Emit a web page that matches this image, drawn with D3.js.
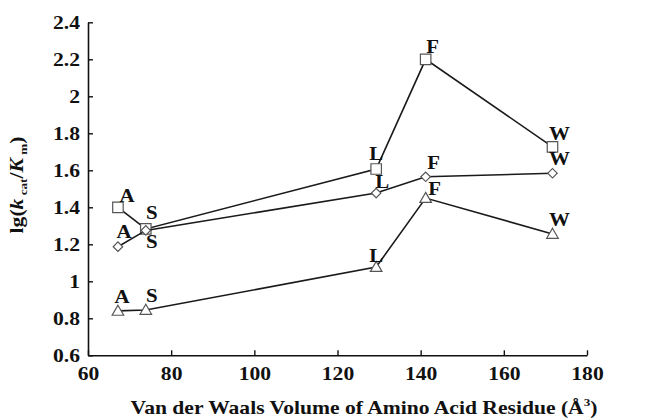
<!DOCTYPE html>
<html>
<head>
<meta charset="utf-8">
<script src="https://cdn.jsdelivr.net/npm/d3@7"></script>
<style>
  body { margin: 0; background: #fff; }
  text { font-family: "Liberation Serif", "Times New Roman", serif; font-weight: bold; fill: #111; }
</style>
</head>
<body>
<svg id="Chart"></svg>
<script>
// residues and their van der Waals volumes (x)
let residues = ["A", "S", "L", "F", "W"]
let volumes = [67.2, 73.9, 129.3, 141.2, 171.7]

// lg(kcat/Km) for the three series
let squareVals = [1.40, 1.283, 1.607, 2.20, 1.727]
let diamondVals = [1.187, 1.275, 1.477, 1.565, 1.584]
let triangleVals = [0.84, 0.845, 1.077, 1.45, 1.256]

let xTicks = [60, 80, 100, 120, 140, 160, 180]
let yTicks = [0.6, 0.8, 1, 1.2, 1.4, 1.6, 1.8, 2, 2.2, 2.4]

// label offsets from the marker (layout only)
let labelOffsets = {
    square:   [[9, -12], [6, -16], [0, -16], [7, -13], [7, -13]],
    diamond:  [[6, -15], [6, 11], [6, -12], [8, -14], [7, -15]],
    triangle: [[4, -14], [6, -14], [0, -12], [9, -10], [7, -14]]
}

// the original figure's type is a little wider than Liberation Serif
let stretchX = 1.2

function stretchText(sel, k){
    sel.each(function(){
        let w = this.getComputedTextLength()
        d3.select(this)
            .attr("textLength", w * k)
            .attr("lengthAdjust", "spacingAndGlyphs")
    })
}

function getChartConfig(){
    let width = 647
    let height = 420
    let margin = { top: 22.3, bottom: 64.7, left: 88, right: 60 }
    let bodyWidth = width - margin.left - margin.right
    let bodyHeight = height - margin.top - margin.bottom
    let container = d3.select("#Chart")
        .attr("width", width)
        .attr("height", height)
    return { width, height, margin, bodyWidth, bodyHeight, container }
}

function getScales(config){
    let { margin, bodyWidth, bodyHeight } = config
    let xScale = d3.scaleLinear()
        .domain([60, 180])
        .range([margin.left, margin.left + bodyWidth])
    let yScale = d3.scaleLinear()
        .domain([0.6, 2.4])
        .range([margin.top + bodyHeight, margin.top])
    return { xScale, yScale }
}

function drawAxes(scales, config){
    let { xScale, yScale } = scales
    let { container, margin, bodyHeight } = config

    let axisX = d3.axisBottom(xScale)
        .tickValues(xTicks)
        .tickSizeInner(-5)
        .tickSizeOuter(0)
        .tickPadding(12)
    let gx = container.append("g")
        .attr("transform", `translate(0,${margin.top + bodyHeight})`)
        .call(axisX)

    let axisY = d3.axisLeft(yScale)
        .tickValues(yTicks)
        .tickFormat(d3.format("~g"))
        .tickSizeInner(-5)
        .tickSizeOuter(0)
        .tickPadding(8)
    let gy = container.append("g")
        .attr("transform", `translate(${margin.left},0)`)
        .call(axisY)

    for (let g of [gx, gy]) {
        g.select(".domain").attr("stroke", "#111").attr("stroke-width", 1.6)
        g.selectAll(".tick line").attr("stroke", "#111").attr("stroke-width", 1.4)
        g.selectAll(".tick text")
            .attr("font-family", null)
            .attr("font-size", null)
            .style("font-size", "18px")
            .attr("fill", "#111")
        stretchText(g.selectAll(".tick text"), stretchX)
    }
    gy.selectAll(".tick text").attr("dy", "0.35em")

    // x title
    let xt = container.append("text")
        .attr("transform", `translate(364,414) scale(${stretchX},1)`)
        .attr("text-anchor", "middle")
        .style("font-size", "18px")
    xt.append("tspan").text("Van der Waals Volume of Amino Acid Residue (Å")
    xt.append("tspan").text("3").style("font-size", "11px").attr("dy", -8)
    xt.append("tspan").text(")").attr("dy", 8)

    // y title
    let yt = container.append("text")
        .attr("transform", `translate(23,185) rotate(-90) scale(${stretchX},1)`)
        .attr("text-anchor", "middle")
        .style("font-size", "18px")
    yt.append("tspan").text("lg(")
    yt.append("tspan").text("k").style("font-style", "italic")
    yt.append("tspan").text(" cat").style("font-size", "11px").attr("dy", 4)
    yt.append("tspan").text("/").attr("dy", -4)
    yt.append("tspan").text("K").style("font-style", "italic")
    yt.append("tspan").text(" m").style("font-size", "11px").attr("dy", 4)
    yt.append("tspan").text(")").attr("dy", -4)
}

function drawSeries(values, shape, offsets, scales, config){
    let { xScale, yScale } = scales
    let { container } = config
    let points = residues.map((r, i) => ({ name: r, x: volumes[i], y: values[i], off: offsets[i] }))

    let line = d3.line()
        .x(d => xScale(d.x))
        .y(d => yScale(d.y))

    container.append("path")
        .datum(points)
        .attr("d", line)
        .attr("fill", "none")
        .attr("stroke", "#1a1a1a")
        .attr("stroke-width", 1.6)

    let sym = d3.symbol()
    if (shape === "square") sym.type(d3.symbolSquare).size(110)
    if (shape === "diamond") sym.type(d3.symbolSquare).size(45)
    if (shape === "triangle") sym.type(d3.symbolTriangle).size(58)

    container.append("g").selectAll("path")
        .data(points)
        .enter().append("path")
        .attr("d", sym)
        .attr("transform", d => {
            let t = `translate(${xScale(d.x)},${yScale(d.y)})`
            if (shape === "diamond") t += " rotate(45)"
            if (shape === "triangle") t = `translate(${xScale(d.x)},${yScale(d.y) + 1})`
            return t
        })
        .attr("fill", "#fff")
        .attr("stroke", "#555")
        .attr("stroke-width", 1.2)

    container.append("g").selectAll("text")
        .data(points)
        .enter().append("text")
        .attr("transform", d => `translate(${xScale(d.x) + d.off[0]},${yScale(d.y) + d.off[1] + 6.5}) scale(1.1,1)`)
        .attr("text-anchor", "middle")
        .style("font-size", "19px")
        .text(d => d.name)
}

function drawChart(){
    let config = getChartConfig()
    let scales = getScales(config)
    drawAxes(scales, config)
    drawSeries(squareVals, "square", labelOffsets.square, scales, config)
    drawSeries(diamondVals, "diamond", labelOffsets.diamond, scales, config)
    drawSeries(triangleVals, "triangle", labelOffsets.triangle, scales, config)
}

drawChart()
</script>
</body>
</html>
